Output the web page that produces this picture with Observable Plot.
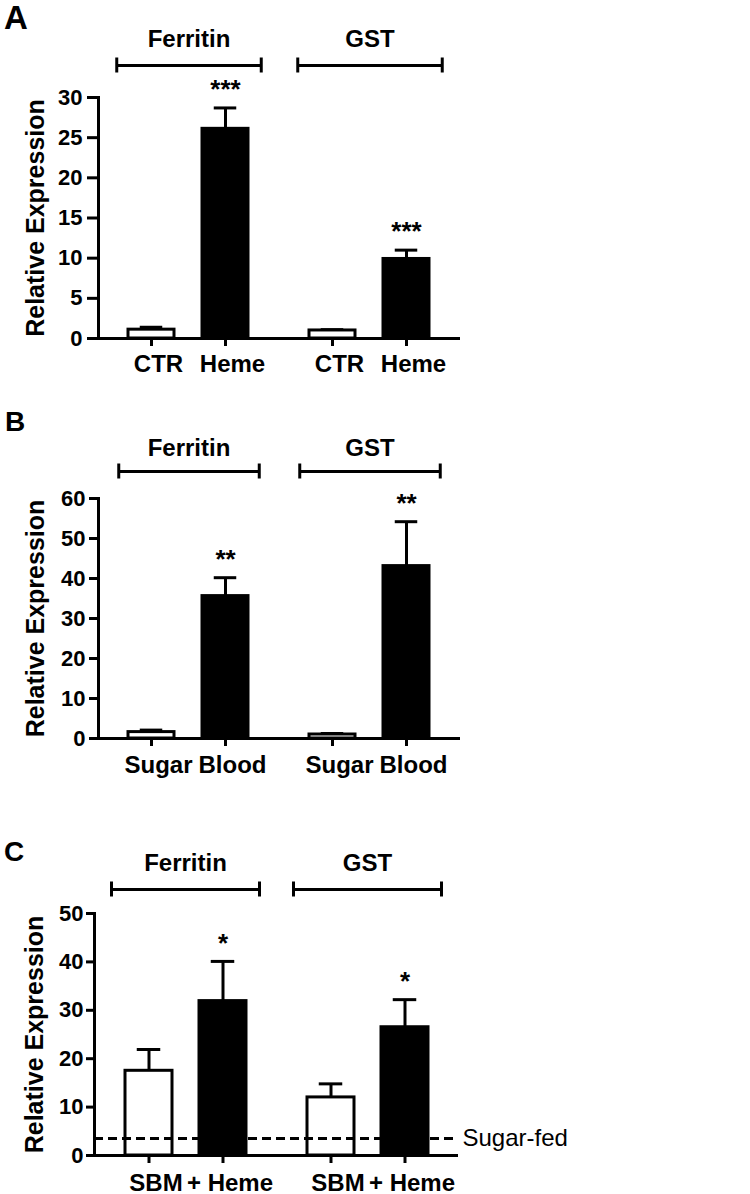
<!DOCTYPE html>
<html><head><meta charset="utf-8">
<script src="https://cdn.jsdelivr.net/npm/d3@7"></script>
<script src="https://cdn.jsdelivr.net/npm/@observablehq/plot@0.6"></script>
<style>
body{margin:0;background:#fff;}
#wrap{position:relative;width:750px;height:1194px;font-family:"Liberation Sans",Arial,sans-serif;}
.panel{position:absolute;left:0;}
.letter{position:absolute;font-weight:bold;line-height:1;color:#000;font-family:"Liberation Sans",Arial,sans-serif;}
svg{display:block;}
</style></head><body><div id="wrap"></div>
<script>
// ---------- data ----------
const genes = ["Ferritin", "GST"];
const yLabel = "Relative Expression";

// Panel A (order: Ferritin-CTR, Ferritin-Heme, GST-CTR, GST-Heme)
const treatmentsA = ["CTR", "Heme"];
const meanA = [1.1, 26.1, 1.0, 9.9];
const semA  = [0.3, 2.6, 0.1, 1.1];
const sigA  = ["", "***", "", "***"];
const yTicksA = [0, 5, 10, 15, 20, 25, 30];

// Panel B
const treatmentsB = ["Sugar", "Blood"];
const meanB = [1.6, 35.6, 1.0, 43.1];
const semB  = [0.5, 4.6, 0.25, 11.1];
const sigB  = ["", "**", "", "**"];
const yTicksB = [0, 10, 20, 30, 40, 50, 60];

// Panel C
const treatmentsC = ["SBM", "+ Heme"];
const meanC = [17.5, 31.9, 12.0, 26.5];
const semC  = [4.4, 8.2, 2.8, 5.7];
const sigC  = ["", "*", "", "*"];
const yTicksC = [0, 10, 20, 30, 40, 50];
const sugarFedLevel = [3.5];
const sugarFedLabel = ["Sugar-fed"];

const panelLetters = ["A", "B", "C"];

// ---------- styling / layout ----------
const SW = 3;
const FONT = '"Liberation Sans", Arial, sans-serif';
const barFills = ["white", "black"];
const BRACKET_END = 7.5; // half-length of bracket end ticks, px

const panels = [
  {letter: panelLetters[0], treatments: treatmentsA, mean: meanA, sem: semA, sig: sigA, yTicks: yTicksA,
   L: {top: 0, height: 385, mt: 97, mb: 47, ml: 97, mr: 290, step: 75, bw: 47, yTickSize: 11, yTickPad: 5,
       xLabPad: 16, bracketDy: -32, bracketInset: 18.5, labelDy: -58.5, ylabDx: -63,
       letterTop: 1, letterLeft: 4, letterSize: 33}},
  {letter: panelLetters[1], treatments: treatmentsB, mean: meanB, sem: semB, sig: sigB, yTicks: yTicksB,
   L: {top: 385, height: 405, mt: 113, mb: 52, ml: 97, mr: 290, step: 75, bw: 47, yTickSize: 9, yTickPad: 4,
       xLabPad: 17, bracketDy: -27, bracketInset: 20.5, labelDy: -50.5, ylabDx: -63,
       letterTop: 408, letterLeft: 5, letterSize: 28}},
  {letter: panelLetters[2], treatments: treatmentsC, mean: meanC, sem: semC, sig: sigC, yTicks: yTicksC,
   sugar: true,
   L: {top: 790, height: 404, mt: 123, mb: 39, ml: 94, mr: 292, step: 74, bw: 47, yTickSize: 8, yTickPad: 3,
       xLabPad: 18, bracketDy: -24, bracketInset: 17, labelDy: -50.3, ylabDx: -60,
       letterTop: 838, letterLeft: 4, letterSize: 28}}
];

const wrap = document.getElementById("wrap");

function makePanel(p) {
  const L = p.L;
  const nT = p.treatments.length;
  const rows = [];
  genes.forEach((g, gi) => p.treatments.forEach((t, ti) => {
    const k = gi * nT + ti;
    rows.push({gene: g, trt: t, kind: ti, mean: p.mean[k], upper: p.mean[k] + p.sem[k], sig: p.sig[k]});
  }));
  const yMax = d3.max(p.yTicks);
  const pxPerUnit = (L.height - L.mt - L.mb) / yMax;
  const endHalf = BRACKET_END / pxPerUnit;
  const brackets = genes.map(g => ({gene: g, y: yMax, lo: yMax - endHalf, hi: yMax + endHalf}));

  const width = 750;
  const W = (width - L.ml - L.mr) / genes.length;
  const pi = 1 - L.bw / L.step;
  const po = (W / L.step - nT + pi) / 2;
  const half = W / 2 - L.bracketInset;
  const capInset = L.bw / 4;

  const marks = [
    Plot.ruleX(rows, {fx: "gene", x: "trt", y1: "mean", y2: "upper", stroke: "black", strokeWidth: SW}),
    Plot.tickY(rows, {fx: "gene", x: "trt", y: "upper", insetLeft: capInset, insetRight: capInset, stroke: "black", strokeWidth: SW}),
    Plot.barY(rows, {fx: "gene", x: "trt", y: "mean", fill: d => barFills[d.kind], stroke: "black", strokeWidth: SW}),
  ];
  if (p.sugar) {
    marks.push(Plot.ruleY(sugarFedLevel, {y: d => d, stroke: "black", strokeWidth: SW, strokeDasharray: "9,5"}));
    marks.push(Plot.text(sugarFedLabel, {y: sugarFedLevel, frameAnchor: "right", textAnchor: "start", lineAnchor: "middle", dx: 4,
      fontSize: 24, fontWeight: "normal", facetAnchor: "right"}));
  }
  marks.push(
    Plot.ruleY([0], {stroke: "black", strokeWidth: SW}),
    Plot.frame({anchor: "left", facetAnchor: "left", stroke: "black", strokeWidth: SW}),
    Plot.axisY(p.yTicks, {anchor: "left", tickSize: L.yTickSize, tickPadding: L.yTickPad, fontSize: 22,
      fontWeight: "bold", strokeWidth: SW, label: null}),
    Plot.axisX({anchor: "bottom", tickSize: 8, tickFormat: () => "", strokeWidth: SW, label: null}),
    Plot.axisX({anchor: "bottom", tickSize: 0, tickPadding: L.xLabPad, dx: 7, fontSize: 24, fontWeight: "bold", label: null}),
    Plot.text(rows, {fx: "gene", x: "trt", y: "upper", text: "sig", dy: -18, fontSize: 26, fontWeight: "bold"}),
    // group brackets
    Plot.ruleY(brackets, {fx: "gene", y: "y", insetLeft: L.bracketInset, insetRight: L.bracketInset, dy: L.bracketDy,
      stroke: "black", strokeWidth: SW}),
    Plot.ruleX(brackets, {fx: "gene", x: null, y1: "lo", y2: "hi", dx: -half, dy: L.bracketDy,
      stroke: "black", strokeWidth: SW}),
    Plot.ruleX(brackets, {fx: "gene", x: null, y1: "lo", y2: "hi", dx: half, dy: L.bracketDy,
      stroke: "black", strokeWidth: SW}),
    Plot.text(genes, {fx: d => d, text: d => d, frameAnchor: "top", lineAnchor: "middle", dy: L.labelDy,
      fontSize: 24, fontWeight: "bold"}),
    Plot.text([yLabel], {text: d => d, frameAnchor: "left", textAnchor: "middle", lineAnchor: "middle", rotate: -90,
      dx: L.ylabDx, fontSize: 25, fontWeight: "bold", facetAnchor: "left"})
  );

  const chart = Plot.plot({
    width, height: L.height,
    marginTop: L.mt, marginBottom: L.mb, marginLeft: L.ml, marginRight: L.mr,
    style: {fontFamily: FONT, color: "black", background: "white", overflow: "visible"},
    fx: {domain: genes, paddingInner: 0, paddingOuter: 0, axis: null, label: null},
    x: {domain: p.treatments, paddingInner: pi, paddingOuter: po, axis: null, label: null},
    y: {domain: [0, yMax], axis: null, label: null},
    marks
  });

  const div = document.createElement("div");
  div.className = "panel";
  div.style.top = L.top + "px";
  div.appendChild(chart);
  wrap.appendChild(div);

  const letter = document.createElement("div");
  letter.className = "letter";
  letter.textContent = p.letter;
  letter.style.top = L.letterTop + "px";
  letter.style.left = L.letterLeft + "px";
  letter.style.fontSize = L.letterSize + "px";
  wrap.appendChild(letter);
}

panels.forEach(makePanel);
</script></body></html>
